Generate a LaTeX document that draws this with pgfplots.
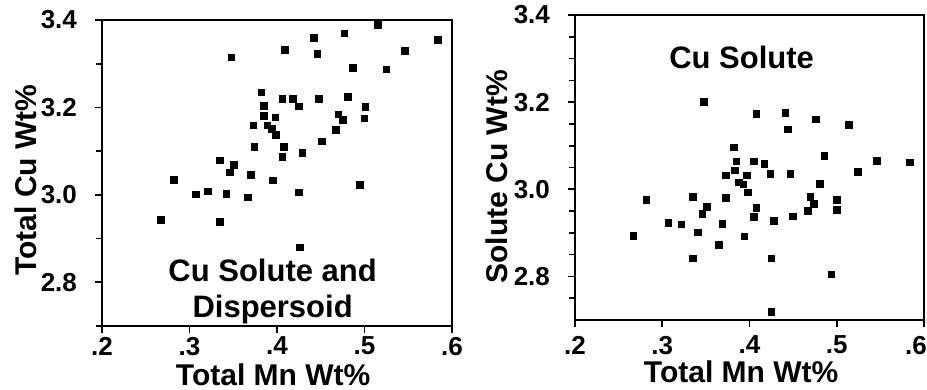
\documentclass[border=0pt]{standalone}
\usepackage{pgfplots}
\pgfplotsset{compat=1.18}
\usepackage{fontspec}
\setmainfont{Liberation Sans}
\begin{document}
\begin{tikzpicture}
\path[use as bounding box] (0,0) rectangle (463.5pt,195pt);
\pgfplotsset{
  myax/.style={
    scale only axis,
    xmin=0.2, xmax=0.6, ymin=2.7, ymax=3.4,
    xtick={0.2,0.3,0.4,0.5,0.6},
    ytick={2.8,3.0,3.2,3.4},
    yticklabels={2.8,3.0,3.2,3.4},
    tick align=outside,
    major tick length=3.5pt, minor tick length=3pt,
    xtick pos=bottom, ytick pos=left,
    axis line style={line width=1pt},
    every tick/.style={line width=0.8pt, black},
    ticklabel style={font=\fontsize{13}{15}\selectfont\bfseries},
    yticklabel style={xshift=-5.5pt},
    label style={font=\fontsize{15}{17}\selectfont\bfseries, inner sep=0pt},
    clip=false,
  },
  pts/.style={only marks, mark=square*, mark size=1.65pt, black},
}
\begin{axis}[myax, at={(51pt,32pt)}, anchor=south west, width=175pt, height=153pt,
  minor ytick={2.7,2.9,3.1,3.3},
  xticklabels={.2,.3,.4,.5,.6},
  xticklabel style={yshift=1.5pt},
  xlabel={Total Mn Wt\%}, ylabel={Total Cu Wt\%},
  xlabel style={at={(axis description cs:0.489,-0.121)}, anchor=north},
  ylabel style={at={(axis description cs:-0.217,0.477)}, anchor=center},
]
\addplot[pts] coordinates {
(0.348,3.314) (0.282,3.034) (0.307,3.001) (0.321,3.008) (0.342,3.002)
(0.367,2.994) (0.335,3.079) (0.351,3.068) (0.346,3.051) (0.370,3.045)
(0.395,3.033) (0.425,3.006) (0.495,3.023) (0.374,3.110) (0.408,3.110)
(0.406,3.087) (0.429,3.096) (0.373,3.159) (0.389,3.159) (0.394,3.151)
(0.399,3.137) (0.385,3.181) (0.398,3.177) (0.385,3.204) (0.382,3.234)
(0.406,3.219) (0.418,3.219) (0.425,3.202) (0.448,3.220) (0.451,3.122)
(0.467,3.148) (0.470,3.184) (0.475,3.171) (0.481,3.224) (0.501,3.201)
(0.500,3.175) (0.409,3.332) (0.442,3.359) (0.446,3.323) (0.477,3.369)
(0.487,3.291) (0.515,3.389) (0.525,3.287) (0.546,3.329) (0.584,3.355)
(0.267,2.943) (0.335,2.938) (0.426,2.880)
};
\node[font=\fontsize{15.5}{18}\selectfont\bfseries, align=center] at (axis cs:0.395,2.779) {Cu Solute and\\Dispersoid};
\end{axis}
\begin{axis}[myax, at={(287.5pt,35pt)}, anchor=south west, width=174.5pt, height=152.5pt,
  minor ytick={2.75,2.85,2.9,2.95,3.05,3.1,3.15,3.25,3.3,3.35},
  xticklabels={.2,.3,.4,.5,{.6\kern8pt}},
  xticklabel style={yshift=-1pt},
  xlabel={Total Mn Wt\%}, ylabel={Solute Cu Wt\%},
  xlabel style={at={(axis description cs:0.476,-0.131)}, anchor=north},
  ylabel style={at={(axis description cs:-0.223,0.469)}, anchor=center},
]
\addplot[pts] coordinates {
(0.348,3.201) (0.408,3.173) (0.441,3.176) (0.444,3.137) (0.476,3.160)
(0.514,3.148) (0.382,3.096) (0.385,3.064) (0.405,3.064) (0.417,3.058)
(0.486,3.076) (0.546,3.065) (0.584,3.062) (0.524,3.040) (0.373,3.032)
(0.383,3.043) (0.397,3.032) (0.424,3.035) (0.447,3.036) (0.388,3.016)
(0.393,3.011) (0.481,3.013) (0.398,2.993)
(0.282,2.976) (0.335,2.983) (0.373,2.980) (0.470,2.983) (0.500,2.975)
(0.500,2.953) (0.474,2.967) (0.467,2.950) (0.450,2.938) (0.428,2.928)
(0.408,2.957) (0.405,2.936) (0.351,2.959) (0.346,2.944) (0.307,2.923)
(0.322,2.919) (0.369,2.921) (0.341,2.901) (0.267,2.893) (0.394,2.892)
(0.365,2.873) (0.335,2.841) (0.425,2.841) (0.494,2.805) (0.425,2.719)
};
\node[font=\fontsize{15.5}{18}\selectfont\bfseries, align=center] at (axis cs:0.391,3.302) {Cu Solute};
\end{axis}
\end{tikzpicture}
\end{document}
